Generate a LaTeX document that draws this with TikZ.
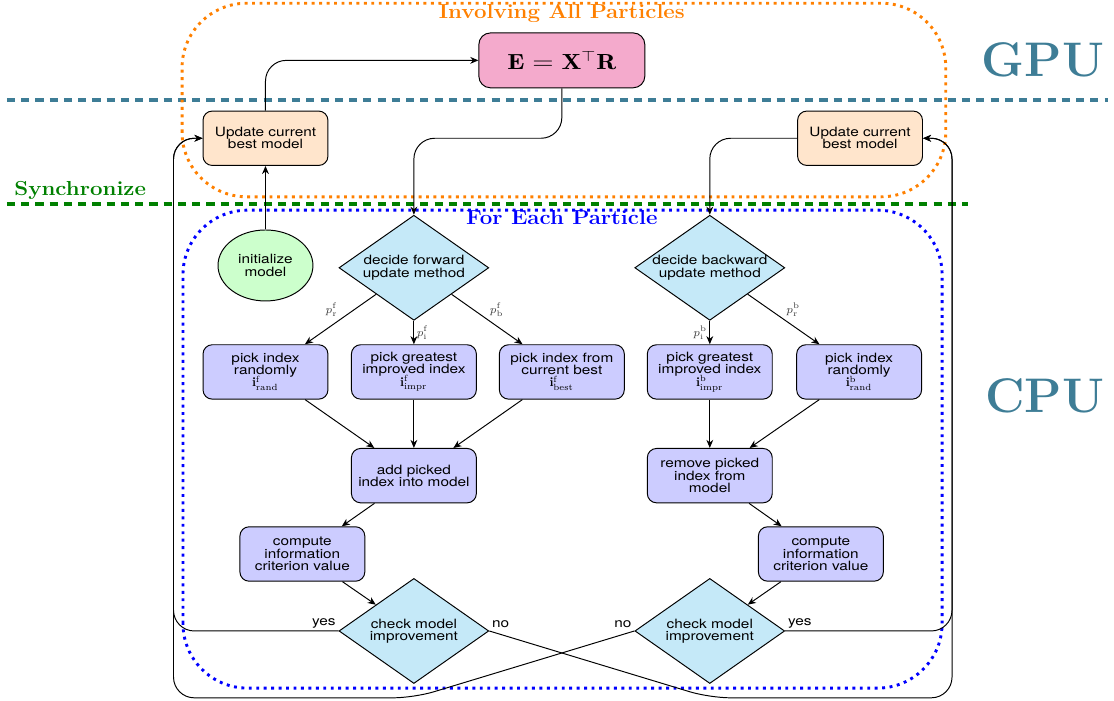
\documentclass[tikz,border=0pt]{standalone}
\usepackage{amsmath}
\usepackage{fontspec}
\setsansfont{TeX Gyre Heros}[FakeStretch=1.2]
\usetikzlibrary{shapes.geometric,arrows.meta,calc}

\definecolor{gputeal}{RGB}{62,125,150}
\definecolor{allorange}{RGB}{255,128,0}
\definecolor{eachblue}{RGB}{0,0,255}
\definecolor{syncgreen}{RGB}{0,128,0}
\definecolor{epink}{RGB}{244,170,204}
\definecolor{bestpeach}{RGB}{255,229,204}
\definecolor{initgreen}{RGB}{204,255,204}
\definecolor{decblue}{RGB}{197,233,248}
\definecolor{proclav}{RGB}{204,204,255}

\newcommand{\nodefont}{\sffamily\fontsize{7.9}{7.6}\selectfont\lineskiplimit=-4pt}
\newcommand{\headtext}[1]{\scalebox{1.1}[1]{\bfseries\fontsize{12.5}{14}\selectfont #1}}

\tikzset{
  chartnode/.style={draw, line width=0.6pt, font=\nodefont, align=center},
  procbox/.style={chartnode, rounded corners=0.2cm, fill=proclav, minimum width=2.71cm, minimum height=1.18cm, inner sep=1pt},
  bestbox/.style={procbox, fill=bestpeach},
  decbox/.style={chartnode, diamond, aspect=1.43, inner sep=0pt, fill=decblue, minimum width=3.25cm, minimum height=2.28cm},
  initbox/.style={chartnode, ellipse, fill=initgreen, minimum width=2.06cm, minimum height=1.54cm, inner sep=0pt},
  arrowline/.style={->, line width=0.6pt},
  backline/.style={arrowline, rounded corners=0.45cm},
  zonebox/.style={line width=1.8pt, dash pattern=on 1.8pt off 2.8pt, rounded corners=1.4cm},
  levelline/.style={line width=2.2pt, dash pattern=on 5pt off 3.8pt},
  problabel/.style={font=\scriptsize, text=black!75, inner sep=1.5pt},
  answer/.style={font=\nodefont, inner sep=1.5pt}
}

\begin{document}
\begin{tikzpicture}[>={Stealth[length=5pt,width=4.2pt,inset=1.6pt]}]
  \useasboundingbox (0,0) rectangle (24.17,15.19);
  \draw[levelline, gputeal] (0.15,13.02) -- (24.05,13.02);
  \draw[levelline, syncgreen] (0.15,10.76) -- (21.0,10.76);
  \draw[zonebox, allorange] (3.95,10.92) rectangle (20.52,15.12);
  \draw[zonebox, eachblue] (3.97,0.26) rectangle (20.44,10.63);

  \node[anchor=base, text=allorange] (alltitle) at (12.19,14.79) {\headtext{Involving All Particles}};
  \node[anchor=base, text=eachblue] (eachtitle) at (12.19,10.31) {\headtext{For Each Particle}};
  \node[anchor=base, text=syncgreen] (synctitle) at (1.74,10.94) {\headtext{Synchronize}};
  \node[anchor=base, text=gputeal, font=\fontsize{30}{34}\selectfont\bfseries] (gputitle) at (22.63,13.53) {GPU};
  \node[anchor=base, text=gputeal, font=\fontsize{30}{34}\selectfont\bfseries] (cputitle) at (22.67,6.23) {CPU};

  \node[chartnode, fill=epink, rounded corners=0.25cm, minimum width=3.6cm, minimum height=1.19cm,
    font=\fontsize{13.5}{16}\selectfont] (gram) at (12.19,13.88) {\scalebox{1.2}[1]{$\mathbf{E}=\mathbf{X}^{\top}\mathbf{R}$}};
  \node[bestbox] (updf) at (5.76,12.19) {Update current\\best model};
  \node[bestbox] (updb) at (18.66,12.19) {Update current\\best model};
  \node[initbox] (init) at (5.76,9.43) {initialize\\model};
  \node[decbox] (decf) at (8.98,9.38) {decide forward\\update method};
  \node[decbox] (decb) at (15.40,9.38) {decide backward\\update method};
  \node[procbox] (pickfr) at (5.76,7.12) {pick index\\randomly\\$\mathbf{i}^{\mathrm{f}}_{\mathrm{rand}}$};
  \node[procbox] (pickfi) at (8.98,7.12) {pick greatest\\improved index\\$\mathbf{i}^{\mathrm{f}}_{\mathrm{impr}}$};
  \node[procbox] (pickfb) at (12.19,7.12) {pick index from\\current best\\$\mathbf{i}^{\mathrm{f}}_{\mathrm{best}}$};
  \node[procbox] (pickbi) at (15.40,7.12) {pick greatest\\improved index\\$\mathbf{i}^{\mathrm{b}}_{\mathrm{impr}}$};
  \node[procbox] (pickbr) at (18.64,7.12) {pick index\\randomly\\$\mathbf{i}^{\mathrm{b}}_{\mathrm{rand}}$};
  \node[procbox] (addf) at (8.98,4.87) {add picked\\index into model};
  \node[procbox] (remb) at (15.40,4.87) {remove picked\\index from\\model};
  \node[procbox] (compf) at (6.56,3.17) {compute\\information\\criterion value};
  \node[procbox] (compb) at (17.81,3.17) {compute\\information\\criterion value};
  \node[decbox] (checkf) at (8.98,1.50) {check model\\improvement};
  \node[decbox] (checkb) at (15.40,1.50) {check model\\improvement};

  \draw[arrowline] (init) -- (updf);
  \draw[backline] (updf.north) |- (gram.west);
  \draw[backline] (gram.south) |- (decf.north |- updf.east) -- (decf.north);
  \draw[backline] (updb.west) -| (decb.north);

  \draw[arrowline] (decf) -- node[problabel, above left] {$p^{\mathrm{f}}_{\mathrm{r}}$} (pickfr);
  \draw[arrowline] (decf) -- node[problabel, right] {$p^{\mathrm{f}}_{\mathrm{i}}$} (pickfi);
  \draw[arrowline] (decf) -- node[problabel, above right] {$p^{\mathrm{f}}_{\mathrm{b}}$} (pickfb);
  \draw[arrowline] (decb) -- node[problabel, left] {$p^{\mathrm{b}}_{\mathrm{i}}$} (pickbi);
  \draw[arrowline] (decb) -- node[problabel, above right] {$p^{\mathrm{b}}_{\mathrm{r}}$} (pickbr);

  \draw[arrowline] (pickfr) -- (addf);
  \draw[arrowline] (pickfi) -- (addf);
  \draw[arrowline] (pickfb) -- (addf);
  \draw[arrowline] (pickbi) -- (remb);
  \draw[arrowline] (pickbr) -- (remb);
  \draw[arrowline] (addf) -- (compf);
  \draw[arrowline] (compf) -- (checkf);
  \draw[arrowline] (remb) -- (compb);
  \draw[arrowline] (compb) -- (checkb);

  \draw[backline] (checkf.west) node[answer, above left] {yes} -| ([xshift=-0.63cm]updf.west) -- (updf.west);
  \draw[backline] (checkb.west) node[answer, above left] {no} -- ([yshift=-0.3cm]checkf.south)
    -| ([xshift=-0.63cm]updf.west) -- (updf.west);
  \draw[backline] (checkf.east) node[answer, above right] {no} -- ([yshift=-0.3cm]checkb.south)
    -| ([xshift=0.63cm]updb.east) -- (updb.east);
  \draw[backline] (checkb.east) node[answer, above right] {yes} -| ([xshift=0.63cm]updb.east) -- (updb.east);
\end{tikzpicture}
\end{document}
